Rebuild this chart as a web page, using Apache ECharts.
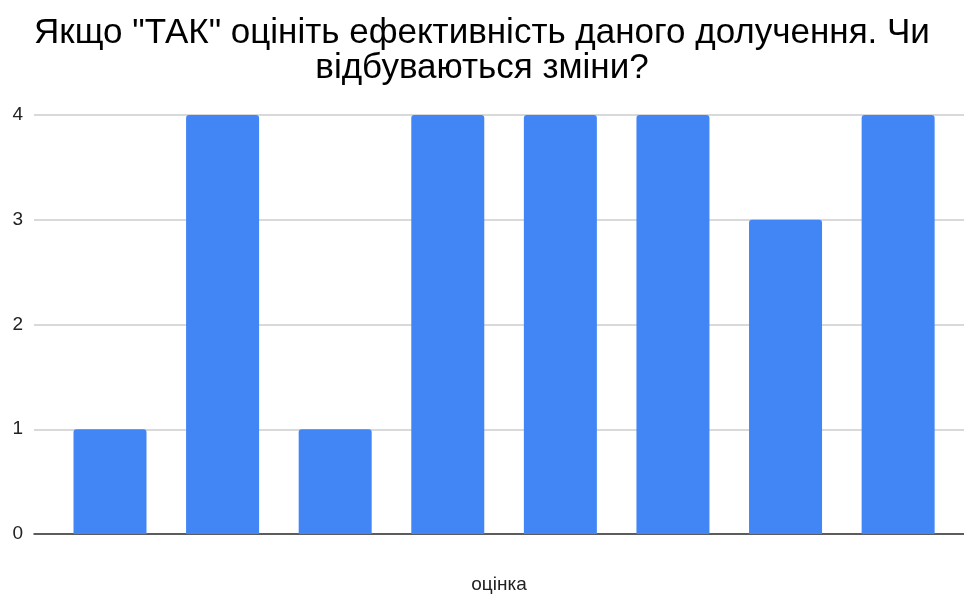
<!DOCTYPE html>
<html>
<head>
<meta charset="utf-8">
<script src="https://cdn.jsdelivr.net/npm/echarts@6/dist/echarts.min.js"></script>
<style>
html,body{margin:0;padding:0;background:#fff;}
#chart{width:964px;height:595px;}
</style>
</head>
<body>
<div id="chart"></div>
<script>
const titleText = 'Якщо "ТАК" оцініть ефективність даного долучення. Чи\nвідбуваються зміни?';
const xAxisName = 'оцінка';
const categories = ['1', '2', '3', '4', '5', '6', '7', '8'];
const values = [1, 4, 1, 4, 4, 4, 3, 4];
const yTicks = [0, 1, 2, 3, 4];

const chart = echarts.init(document.getElementById('chart'), null, {renderer: 'canvas'});
const data = values.map((v, i) => [i, v]);

chart.setOption({
  animation: false,
  backgroundColor: '#ffffff',
  title: {
    text: titleText,
    left: 'center',
    top: 11,
    textStyle: {
      fontFamily: 'Arial, "Liberation Sans", sans-serif',
      fontSize: 35,
      fontWeight: 'normal',
      color: '#000000',
      lineHeight: 35,
      align: 'center'
    }
  },
  grid: {left: 34, right: 0, top: 115, bottom: 61, containLabel: false, outerBoundsMode: 'none'},
  xAxis: {
    type: 'value',
    min: -0.675,
    max: categories.length - 1 + 0.585,
    name: xAxisName,
    nameLocation: 'middle',
    nameGap: 41,
    nameTextStyle: {fontFamily: 'Arial, "Liberation Sans", sans-serif', fontSize: 19, color: '#222222'},
    axisLine: {show: true, onZero: false, lineStyle: {color: '#333333', width: 1.5}},
    axisTick: {show: false},
    axisLabel: {show: false},
    splitLine: {show: false}
  },
  yAxis: {
    type: 'value',
    min: yTicks[0],
    max: yTicks[yTicks.length - 1],
    interval: 1,
    axisLine: {show: false},
    axisTick: {show: false},
    axisLabel: {
      margin: 11,
      fontFamily: 'Arial, "Liberation Sans", sans-serif',
      fontSize: 19,
      color: '#222222'
    },
    splitLine: {lineStyle: {color: '#cccccc', width: 1.5}}
  },
  series: [{
    type: 'bar',
    data: data,
    barWidth: 73,
    itemStyle: {color: '#4285F4', borderRadius: [3, 3, 0, 0]}
  }]
});
</script>
</body>
</html>
